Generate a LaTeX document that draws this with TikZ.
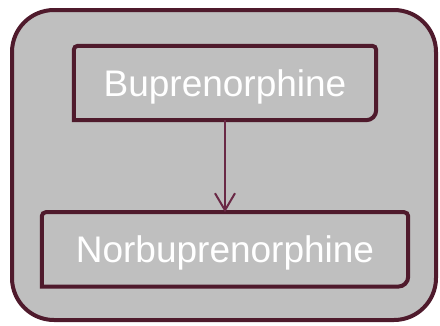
\documentclass[tikz,border=0pt]{standalone}
\usepackage{fontspec}
\setmainfont{Liberation Sans}
\usepackage{tikz}
\usetikzlibrary{arrows.meta}
\usetikzlibrary{positioning}
\definecolor{wine}{HTML}{4F1A2C}
\definecolor{winelight}{HTML}{6A2946}
\definecolor{panelgray}{HTML}{BFBFBF}

\begin{document}
\begin{tikzpicture}[
                x = 1pt, y = -1pt,
                panel/.style = {draw = wine, fill = panelgray, line width = 4pt,
                                rounded corners = 42pt},
                drug/.style = {inner sep = 0pt, minimum height = 74pt,
                               text height = 30pt, text depth = 4pt,
                               text = white, font = \fontsize{37}{44}\selectfont},
                boxline/.style = {draw = wine, line width = 4pt},
                conv/.style = {draw = winelight, line width = 2pt,
                               -{Straight Barb[length = 17pt, width = 20pt]}}
                ]
                \useasboundingbox (0,0) rectangle (440,325);

                % Background panel
                \path[panel] (12,10) rectangle (436,320);

                % Compounds
                \node[drug, minimum width = 302pt] (bup) at (225,83) {Buprenorphine};
                \node[drug, minimum width = 366pt, below = 92pt of bup] (norbup) {Norbuprenorphine};

                % Box outlines: sharp lower left, large round lower right
                \foreach \n in {bup, norbup} {
                  \draw[boxline] (\n.south west) [rounded corners = 4pt]
                    -- (\n.north west) -- (\n.north east)
                    [rounded corners = 10pt] -- (\n.south east)
                    [sharp corners] -- cycle;
                }

                % Metabolic step
                \draw[conv] (bup.south) -- (norbup.north);
            \end{tikzpicture}
\end{document}
